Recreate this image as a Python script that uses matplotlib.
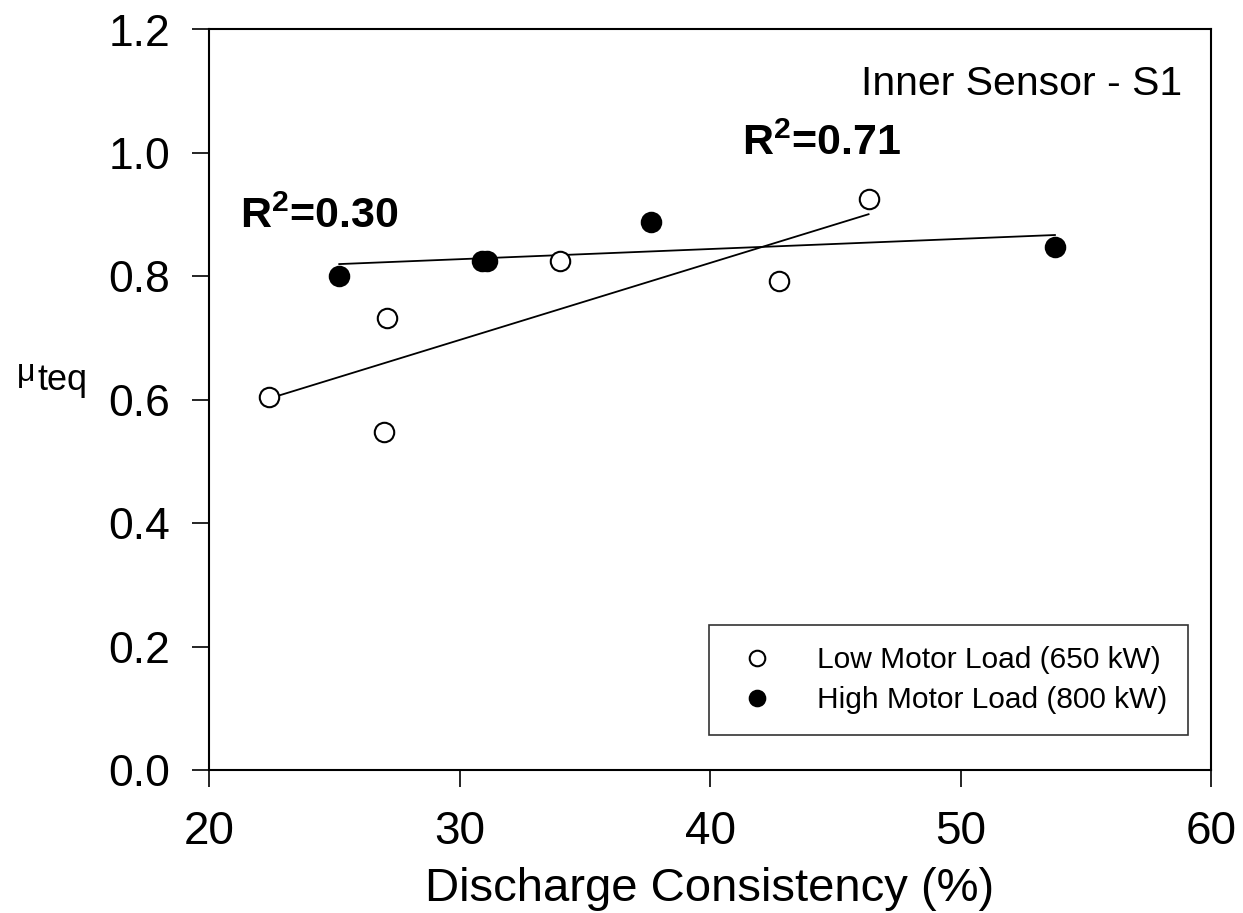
import numpy as np
import matplotlib
matplotlib.use("Agg")
import matplotlib.pyplot as plt

plt.rcParams['font.family'] = ['Liberation Sans', 'DejaVu Sans']
plt.rcParams['mathtext.fontset'] = 'custom'
plt.rcParams['mathtext.rm'] = 'Liberation Sans'
plt.rcParams['mathtext.bf'] = 'Liberation Sans:bold'

# Données
low_x = [22.39, 26.99, 27.12, 34.03, 42.77, 46.33]
low_y = [0.605, 0.547, 0.732, 0.825, 0.792, 0.925]
high_x = [25.20, 30.89, 31.08, 37.65, 53.77]
high_y = [0.800, 0.825, 0.825, 0.888, 0.848]

low_label = 'Low Motor Load (650 kW)'
high_label = 'High Motor Load (800 kW)'
x_ticks = [20, 30, 40, 50, 60]
y_ticks = [0.0, 0.2, 0.4, 0.6, 0.8, 1.0, 1.2]

fig = plt.figure(figsize=(12.43, 9.13), dpi=100)
ax = fig.add_axes([209 / 1243, 1 - 770 / 913, 1002 / 1243, 740.5 / 913])

ax.plot(low_x, low_y, 'o', ms=14, mfc='white', mec='black', mew=1.5, ls='none', label=low_label, zorder=3)
ax.plot(high_x, high_y, 'o', ms=14, mfc='black', mec='black', mew=1.5, ls='none', label=high_label, zorder=3)

# Droites de régression
for xs, ys in [(low_x, low_y), (high_x, high_y)]:
    p = np.polyfit(xs, ys, 1)
    xx = np.array([min(xs), max(xs)])
    ax.plot(xx, np.polyval(p, xx), color='black', lw=1.3, zorder=2)

ax.set_xlim(20, 60)
ax.set_ylim(0, 1.2)
ax.set_xticks(x_ticks)
ax.set_yticks(y_ticks)
ax.set_yticklabels([f'{v:.1f}' for v in y_ticks])
ax.tick_params(axis='x', direction='out', length=12, width=1.2, labelsize=33, pad=17)
ax.tick_params(axis='y', direction='out', length=12, width=1.2, labelsize=32, pad=16)
for s in ax.spines.values():
    s.set_linewidth(1.5)

ax.set_xlabel('Discharge Consistency (%)', fontsize=34, labelpad=9)

ax.text(58.84, 1.0945, 'Inner Sensor - S1', fontsize=29.5, ha='right', va='baseline')
ax.text(21.24, 0.879, r'R$^\mathbf{2}$=0.30', fontsize=31, fontweight='bold', ha='left', va='baseline')
ax.text(41.29, 0.997, r'R$^\mathbf{2}$=0.71', fontsize=31, fontweight='bold', ha='left', va='baseline')

fig.text(17 / 1243, 1 - 381 / 913, 'μ', fontsize=23, ha='left', va='baseline')
fig.text(37 / 1243, 1 - 390 / 913, 'teq', fontsize=26, ha='left', va='baseline')

leg = ax.legend(loc='lower right', bbox_to_anchor=(0.977, 0.047), borderaxespad=0,
                fontsize=21.5, markerscale=0.8, frameon=True, fancybox=False,
                edgecolor='black', handletextpad=1.1, labelspacing=0.4,
                borderpad=0.7, handlelength=1.8)
leg.get_frame().set_linewidth(1.2)

fig.savefig('out.png', dpi=100)
